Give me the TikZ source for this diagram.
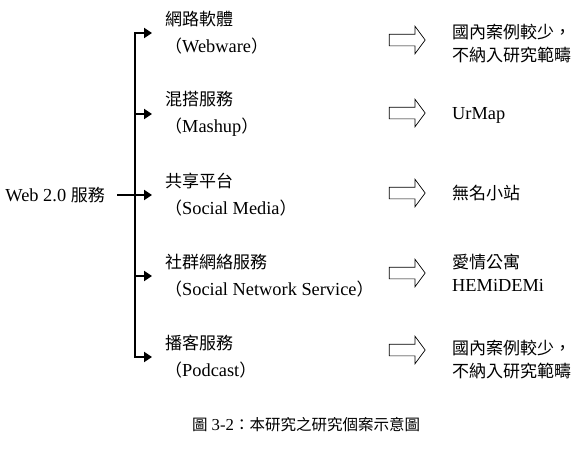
\documentclass[tikz,border=0pt]{standalone}
\usepackage{fontspec}
\setmainfont{Liberation Serif}[Scale=1.08]
\newfontfamily\cjk{Noto Sans CJK TC}
\newcommand{\zh}[1]{{\cjk #1}}
\usetikzlibrary{arrows.meta,shapes.arrows}

\begin{document}
\begin{tikzpicture}[x=1pt,y=-1pt,
  branch/.style={line width=2.2pt,-{Triangle[length=8pt,width=10pt]}},
  item/.style={anchor=west,inner sep=0pt,align=left,font=\fontsize{17}{27}\selectfont},
  case/.style={anchor=west,inner sep=0pt,align=left,font=\fontsize{17}{23}\selectfont},
  fat/.style={single arrow,draw,line width=0.7pt,inner xsep=0pt,inner ysep=5.5pt,minimum height=36pt,single arrow head extend=8pt,single arrow tip angle=107}]
  \useasboundingbox (0,0) rectangle (583,459);
  \node[item,anchor=east] (root) at (105,195) {Web 2.0 \zh{服務}};
  \coordinate (b1) at (135,33);
  \coordinate (b2) at (135,114);
  \coordinate (b3) at (135,195);
  \coordinate (b4) at (135,276);
  \coordinate (b5) at (135,357);
  \node[item] (w1) at (165,33) {\zh{網路軟體}\\\zh{（}Webware\zh{）}};
  \node[item] (w2) at (165,114) {\zh{混搭服務}\\\zh{（}Mashup\zh{）}};
  \node[item] (w3) at (165,195) {\zh{共享平台}\\\zh{（}Social Media\zh{）}};
  \node[item] (w4) at (165,276) {\zh{社群網絡服務}\\\zh{（}Social Network Service\zh{）}};
  \node[item] (w5) at (165,357) {\zh{播客服務}\\\zh{（}Podcast\zh{）}};
  \draw[branch,{Triangle[length=8pt,width=10pt]}-{Triangle[length=8pt,width=10pt]},shorten <=13pt,shorten >=13pt] (w1) -- (b1) -- (b5) -- (w5);
  \draw[branch,shorten >=13pt] (b2) -- (w2);
  \draw[branch,shorten >=13pt] (b4) -- (w4);
  \draw[branch,shorten <=12pt,shorten >=13pt] (root) -- (w3);
  \node[fat] (a1) at (405,40) {};
  \node[fat] (a2) at (405,113) {};
  \node[fat] (a3) at (405,193) {};
  \node[fat] (a4) at (405,273) {};
  \node[fat] (a5) at (405,350) {};
  \node[case] (r1) at (452,44) {\zh{國內案例較少，}\\\zh{不納入研究範疇}};
  \node[case] (r2) at (452,115) {UrMap};
  \node[case] (r3) at (452,193) {\zh{無名小站}};
  \node[case] (r4) at (452,273) {\zh{愛情公寓}\\HEMiDEMi};
  \node[case] (r5) at (452,360) {\zh{國內案例較少，}\\\zh{不納入研究範疇}};
  \node[font=\fontsize{15.5}{18}\selectfont] (cap) at (306,425) {\zh{圖} 3-2\zh{：本研究之研究個案示意圖}};
\end{tikzpicture}
\end{document}
